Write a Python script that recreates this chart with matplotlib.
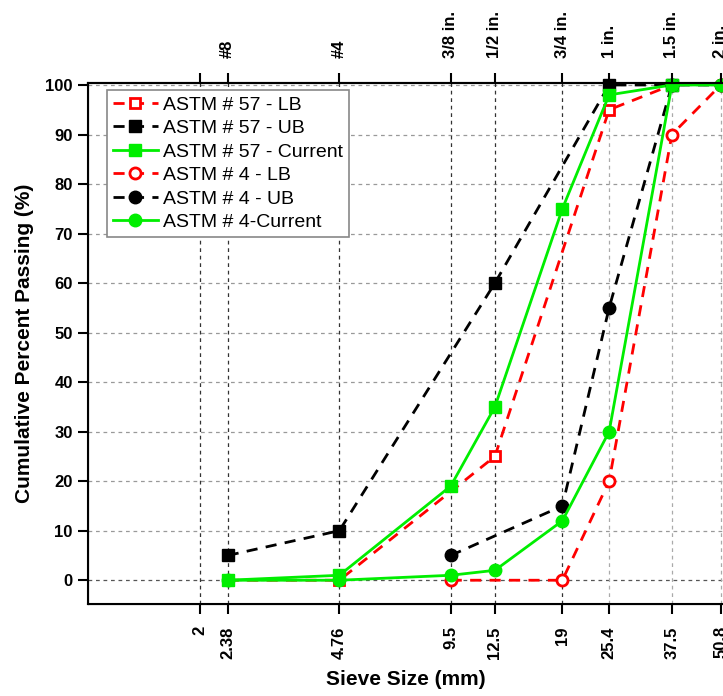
import numpy as np
import matplotlib.pyplot as plt

plt.rcParams["font.family"] = ["Liberation Sans", "DejaVu Sans"]

# sieve sizes (mm) and top-axis names
sieve_mm = [2.38, 4.76, 9.5, 12.5, 19, 25.4, 37.5, 50.8]
sieve_names = ["#8", "#4", "3/8 in.", "1/2 in.", "3/4 in.", "1 in.", "1.5 in.", "2 in."]
bottom_ticks = [2, 2.38, 4.76, 9.5, 12.5, 19, 25.4, 37.5, 50.8]
bottom_labels = ["2", "2.38", "4.76", "9.5", "12.5", "19", "25.4", "37.5", "50.8"]

# ASTM #57 gradation
a57_x = [2.38, 4.76, 12.5, 25.4, 37.5]
a57_lb = [0, 0, 25, 95, 100]
a57_ub = [5, 10, 60, 100, 100]
a57_cur_x = [2.38, 4.76, 9.5, 12.5, 19, 25.4, 37.5]
a57_cur = [0, 1, 19, 35, 75, 98, 100]

# ASTM #4 gradation
a4_x = [9.5, 19, 25.4, 37.5, 50.8]
a4_lb = [0, 0, 20, 90, 100]
a4_ub = [5, 15, 55, 100, 100]
a4_cur_x = [2.38, 4.76, 9.5, 12.5, 19, 25.4, 37.5, 50.8]
a4_cur = [0, 0, 1, 2, 12, 30, 100, 100]

RED = "#ff0000"
GREEN = "#00ee00"

fig = plt.figure(figsize=(7.23, 6.96), dpi=100)
ax = fig.add_axes([88 / 723, 1 - 604 / 696, (723 - 88) / 723, (604 - 83) / 696])

ax.set_xscale("log")
ax.set_xlim(1.0, 51.5)
ax.set_ylim(-4.8, 100.4)

# grid lines
for v in range(0, 101, 10):
    ax.axhline(v, color="#555555" if v == 0 else "#999999", ls=(0, (3, 3)), lw=0.9, zorder=0)
for xv in bottom_ticks:
    col = "#aaaaaa" if xv > 20 else "#333333"
    ax.axvline(xv, color=col, ls=(0, (3, 3)), lw=0.9, zorder=0)

dash = (0, (4, 3))
ax.plot(a57_x, a57_lb, ls=dash, color=RED, lw=2, marker="s", ms=7.5, mfc="white",
        mec=RED, mew=2, label="ASTM # 57 - LB", clip_on=False)
ax.plot(a57_x, a57_ub, ls=dash, color="black", lw=2, marker="s", ms=9,
        label="ASTM # 57 - UB", clip_on=False)
ax.plot(a57_cur_x, a57_cur, color=GREEN, lw=2, marker="s", ms=9,
        label="ASTM # 57 - Current", clip_on=False)
ax.plot(a4_x, a4_lb, ls=dash, color=RED, lw=2, marker="o", ms=8, mfc="white",
        mec=RED, mew=2, label="ASTM # 4 - LB", clip_on=False)
ax.plot(a4_x, a4_ub, ls=dash, color="black", lw=2, marker="o", ms=9,
        label="ASTM # 4 - UB", clip_on=False)
ax.plot(a4_cur_x, a4_cur, color=GREEN, lw=2, marker="o", ms=9,
        label="ASTM # 4-Current", clip_on=False)

ax.set_xticks(bottom_ticks)
ax.set_xticklabels(bottom_labels, rotation=90, fontsize=12, fontweight="bold")
ax.xaxis.set_minor_locator(plt.NullLocator())
ax.set_yticks(range(0, 101, 10))
ax.set_yticklabels([str(v) for v in range(0, 101, 10)], fontsize=12, fontweight="bold")
ax.tick_params(axis="both", direction="out", length=7.5, width=1.5)
ax.tick_params(axis="x", pad=8.5)

ax.set_xlabel("Sieve Size (mm)", fontsize=15, fontweight="bold", labelpad=8)
ax.set_ylabel("Cumulative Percent Passing (%)", fontsize=15, fontweight="bold", labelpad=8)

for side in ["left", "bottom", "top"]:
    ax.spines[side].set_linewidth(1.5)
ax.spines["right"].set_visible(False)

# top axis with sieve names
top = ax.twiny()
top.set_xscale("log")
top.set_xlim(ax.get_xlim())
top.set_xticks([2] + sieve_mm)
top.set_xticklabels([""] + sieve_names, rotation=90, fontsize=12, fontweight="bold")
top.xaxis.set_minor_locator(plt.NullLocator())
top.tick_params(axis="x", direction="out", length=7.5, width=1.5, pad=10.5)
top.spines["top"].set_linewidth(1.5)
top.spines["right"].set_visible(False)

leg = ax.legend(loc="upper left", bbox_to_anchor=(0.03, 0.986), fontsize=14,
                frameon=True, fancybox=False, edgecolor="#888888", framealpha=1,
                handlelength=2.3, borderpad=0.3, labelspacing=0.3, handletextpad=0.3,
                borderaxespad=0)
leg.get_frame().set_linewidth(1.2)

fig.savefig("out.png", dpi=100)
